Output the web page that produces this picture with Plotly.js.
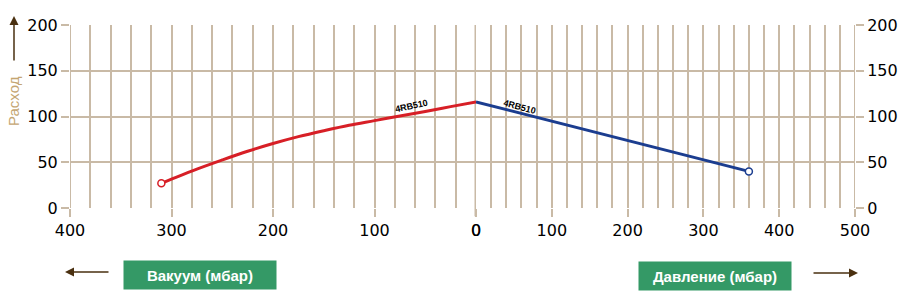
<!DOCTYPE html>
<html>
<head>
<meta charset="utf-8">
<script src="https://cdn.plot.ly/plotly-3.0.1.min.js"></script>
<style>html,body{margin:0;padding:0;background:#fff;}#chart{width:899px;height:306px;}</style>
</head>
<body>
<div id="chart"></div>
<script>
// Vacuum side (mbar) and flow
const vacuumMbar = [310, 300, 275, 250, 225, 200, 175, 150, 125, 100, 75, 50, 25, 0];
const vacuumFlow = [27, 31.5, 42.5, 52.5, 62, 70.5, 78, 84.5, 90.5, 95.5, 100.5, 105.5, 110.8, 116];
// Pressure side (mbar) and flow
const pressureMbar = [0, 360];
const pressureFlow = [116, 40];
const seriesName = "4RB510";
const yTicks = [0, 50, 100, 150, 200];
const xMajorStep = 100;
const xMinorStep = 20;
const vacuumRange = [400, 0];
const pressureRange = [0, 500];

const grid = '#c9baa6';
const tickFont = {family: 'DejaVu Sans, Verdana, sans-serif', size: 16, color: '#000'};
const split = (476 - 70) / 785;

const traces = [
  {x: vacuumMbar, y: vacuumFlow, xaxis: 'x', yaxis: 'y', mode: 'lines', line: {color: '#d71f26', width: 3, shape: 'spline'}, hoverinfo: 'skip'},
  {x: [vacuumMbar[0]], y: [vacuumFlow[0]], xaxis: 'x', yaxis: 'y', mode: 'markers',
   marker: {symbol: 'circle', size: 7, color: '#fff', line: {color: '#d71f26', width: 1.5}}, hoverinfo: 'skip'},
  {x: pressureMbar, y: pressureFlow, xaxis: 'x2', yaxis: 'y', mode: 'lines', line: {color: '#1b3d8f', width: 3}, hoverinfo: 'skip'},
  {x: [pressureMbar[pressureMbar.length-1]], y: [pressureFlow[pressureFlow.length-1]], xaxis: 'x2', yaxis: 'y', mode: 'markers',
   marker: {symbol: 'circle', size: 7, color: '#fff', line: {color: '#1b3d8f', width: 1.5}}, hoverinfo: 'skip'},
  {x: pressureMbar, y: pressureFlow, xaxis: 'x2', yaxis: 'y2', mode: 'markers', marker: {opacity: 0}, hoverinfo: 'skip'}
];

const axBase = {
  showline: false, zeroline: false, showgrid: true, gridcolor: grid, gridwidth: 2,
  ticks: 'outside', ticklen: 8, tickwidth: 2, tickcolor: grid, tickfont: tickFont
};
const xMinor = {tickmode: 'linear', tick0: 0, dtick: xMinorStep, showgrid: true, gridcolor: grid, gridwidth: 2, ticks: ''};

const layout = {
  width: 899, height: 306,
  margin: {l: 70, r: 44, t: 25, b: 98},
  paper_bgcolor: '#fff', plot_bgcolor: '#fff',
  showlegend: false,
  xaxis: Object.assign({}, axBase, {
    domain: [0, split], range: vacuumRange, tickmode: 'linear', tick0: 0, dtick: xMajorStep, anchor: 'y', minor: xMinor
  }),
  xaxis2: Object.assign({}, axBase, {
    domain: [split, 1], range: pressureRange, tickmode: 'linear', tick0: 0, dtick: xMajorStep, anchor: 'y', minor: xMinor
  }),
  yaxis: Object.assign({}, axBase, {range: [0, 200], tickvals: yTicks, anchor: 'x'}),
  yaxis2: Object.assign({}, axBase, {range: [0, 200], tickvals: yTicks, overlaying: 'y', side: 'right', anchor: 'x2', showgrid: false}),
  shapes: [
    {type: 'line', xref: 'x', yref: 'paper', x0: 0, x1: 0, y0: -0.045, y1: 1, line: {color: grid, width: 3}, layer: 'below'},
    {type: 'line', xref: 'x', yref: 'paper', x0: vacuumRange[0], x1: vacuumRange[0], y0: 0, y1: 1, line: {color: grid, width: 2}, layer: 'below'},
    {type: 'line', xref: 'x2', yref: 'paper', x0: pressureRange[1], x1: pressureRange[1], y0: 0, y1: 1, line: {color: grid, width: 2}, layer: 'below'}
  ],
  annotations: [
    {xref: 'x', yref: 'y', x: 64, y: 111, text: '<b>' + seriesName + '</b>', showarrow: false, textangle: -12,
     font: {family: 'Liberation Sans, Arial', size: 9, color: '#000'}},
    {xref: 'x2', yref: 'y', x: 58, y: 110, text: '<b>' + seriesName + '</b>', showarrow: false, textangle: 15,
     font: {family: 'Liberation Sans, Arial', size: 9, color: '#000'}},
    {xref: 'paper', yref: 'paper', x: (13 - 70) / 785, y: (208 - 101) / 183, text: 'Расход', showarrow: false, textangle: -90,
     xanchor: 'center', yanchor: 'middle',
     font: {family: 'Liberation Sans, Arial', size: 15, color: '#c4a672'}},
    {xref: 'paper', yref: 'paper', x: (14 - 70) / 785, y: (208 - 16) / 183, text: '', showarrow: true, ax: 0, ay: 46,
     arrowhead: 2, arrowsize: 1.2, arrowwidth: 1.5, arrowcolor: '#4a3010'},
    {xref: 'paper', yref: 'paper', x: (200 - 70) / 785, y: (208 - 275) / 183, text: '<b>Вакуум (мбар)</b>', showarrow: false,
     bgcolor: '#349966', width: 150, height: 26, font: {family: 'Liberation Sans, Arial', size: 15, color: '#fff'}, xanchor: 'center', yanchor: 'middle'},
    {xref: 'paper', yref: 'paper', x: (715 - 70) / 785, y: (208 - 276) / 183, text: '<b>Давление (мбар)</b>', showarrow: false,
     bgcolor: '#349966', width: 150, height: 26, font: {family: 'Liberation Sans, Arial', size: 15, color: '#fff'}, xanchor: 'center', yanchor: 'middle'},
    {xref: 'paper', yref: 'paper', x: (65 - 70) / 785, y: (208 - 272) / 183, text: '', showarrow: true, ax: 45, ay: 0,
     arrowhead: 2, arrowsize: 1.2, arrowwidth: 1.5, arrowcolor: '#4a3010'},
    {xref: 'paper', yref: 'paper', x: (858 - 70) / 785, y: (208 - 273) / 183, text: '', showarrow: true, ax: -46, ay: 0,
     arrowhead: 2, arrowsize: 1.2, arrowwidth: 1.5, arrowcolor: '#4a3010'}
  ]
};

Plotly.newPlot('chart', traces, layout, {staticPlot: true, displayModeBar: false});
</script>
</body>
</html>
